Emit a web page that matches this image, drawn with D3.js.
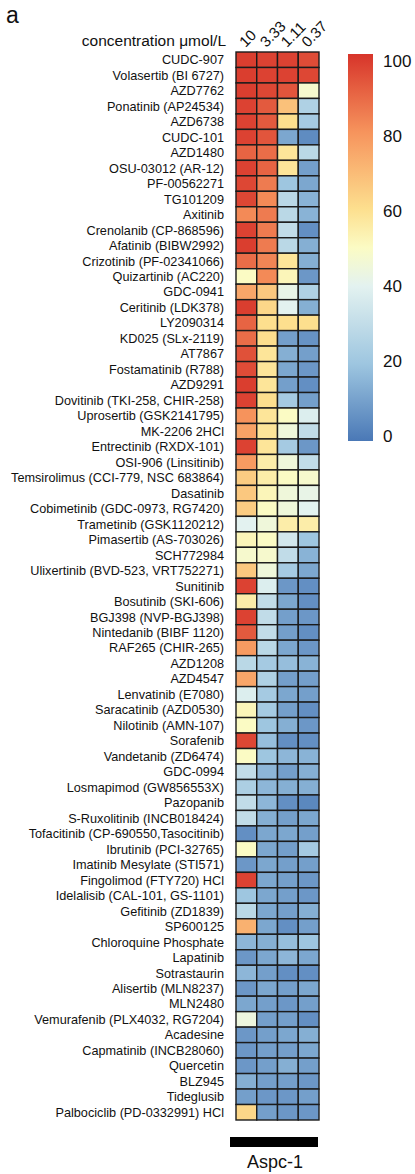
<!DOCTYPE html>
<html>
<head>
<meta charset="utf-8">
<script src="https://cdn.jsdelivr.net/npm/d3@7"></script>
<style>
  body { margin: 0; background: #fff; }
  text { font-family: "Liberation Sans", Arial, Helvetica, sans-serif; fill: #111; }
</style>
</head>
<body>
<div id="chart"></div>
<script>
const WIDTH = 415;
const HEIGHT = 1174;

var drugs = [
  "CUDC-907", "Volasertib (BI 6727)", "AZD7762", "Ponatinib (AP24534)", "AZD6738",
  "CUDC-101", "AZD1480", "OSU-03012 (AR-12)", "PF-00562271", "TG101209",
  "Axitinib", "Crenolanib (CP-868596)", "Afatinib (BIBW2992)", "Crizotinib (PF-02341066)",
  "Quizartinib (AC220)", "GDC-0941", "Ceritinib (LDK378)", "LY2090314", "KD025 (SLx-2119)",
  "AT7867", "Fostamatinib (R788)", "AZD9291", "Dovitinib (TKI-258, CHIR-258)",
  "Uprosertib (GSK2141795)", "MK-2206 2HCl", "Entrectinib (RXDX-101)", "OSI-906 (Linsitinib)",
  "Temsirolimus (CCI-779, NSC 683864)", "Dasatinib", "Cobimetinib (GDC-0973, RG7420)",
  "Trametinib (GSK1120212)", "Pimasertib (AS-703026)", "SCH772984",
  "Ulixertinib (BVD-523, VRT752271)", "Sunitinib", "Bosutinib (SKI-606)", "BGJ398 (NVP-BGJ398)",
  "Nintedanib (BIBF 1120)", "RAF265 (CHIR-265)", "AZD1208", "AZD4547", "Lenvatinib (E7080)",
  "Saracatinib (AZD0530)", "Nilotinib (AMN-107)", "Sorafenib", "Vandetanib (ZD6474)",
  "GDC-0994", "Losmapimod (GW856553X)", "Pazopanib", "S-Ruxolitinib (INCB018424)",
  "Tofacitinib (CP-690550,Tasocitinib)", "Ibrutinib (PCI-32765)", "Imatinib Mesylate (STI571)",
  "Fingolimod (FTY720) HCl", "Idelalisib (CAL-101, GS-1101)", "Gefitinib (ZD1839)", "SP600125",
  "Chloroquine Phosphate", "Lapatinib", "Sotrastaurin", "Alisertib (MLN8237)", "MLN2480",
  "Vemurafenib (PLX4032, RG7204)", "Acadesine", "Capmatinib (INCB28060)", "Quercetin",
  "BLZ945", "Tideglusib", "Palbociclib (PD-0332991) HCl"
];

var concentrations = ["10", "3.33", "1.11", "0.37"];

// inhibition (%) at 10 / 3.33 / 1.11 / 0.37 umol/L
var inhib10 = [98, 98, 98, 97, 97, 97, 90, 97, 96, 96, 82, 97, 98, 88, 50, 75, 98, 90, 88, 94,
  95, 98, 97, 80, 76, 97, 78, 65, 66, 65, 40, 52, 48, 66, 97, 55, 97, 92, 78, 28, 75, 38, 52, 50,
  96, 50, 30, 24, 30, 30, 6, 50, 8, 97, 20, 28, 72, 16, 8, 16, 8, 12, 44, 8, 8, 8, 14, 10, 62];
var inhib333 = [97, 97, 96, 92, 92, 93, 88, 90, 85, 82, 85, 85, 85, 83, 82, 66, 62, 60, 60, 58,
  58, 58, 60, 58, 58, 58, 55, 55, 52, 50, 45, 50, 48, 45, 38, 30, 30, 30, 28, 22, 25, 22, 22, 20,
  18, 20, 16, 16, 16, 14, 12, 12, 12, 12, 12, 12, 12, 14, 12, 10, 12, 10, 10, 10, 10, 10, 10, 8, 10];
var inhib111 = [97, 97, 93, 68, 60, 12, 58, 58, 20, 28, 28, 30, 28, 58, 52, 42, 40, 60, 10, 14,
  12, 10, 22, 50, 45, 22, 45, 50, 45, 45, 55, 35, 30, 22, 8, 12, 10, 10, 12, 18, 10, 12, 10, 14,
  6, 16, 10, 14, 6, 10, 12, 10, 10, 10, 10, 10, 6, 18, 16, 6, 10, 8, 10, 12, 10, 14, 10, 8, 8];
var inhib037 = [95, 96, 48, 25, 22, 5, 28, 10, 12, 15, 15, 6, 14, 14, 8, 25, 14, 60, 7, 10,
  8, 6, 10, 38, 30, 8, 30, 48, 42, 40, 55, 20, 15, 12, 6, 6, 8, 6, 8, 15, 10, 10, 6, 8,
  6, 15, 14, 14, 4, 12, 10, 22, 10, 8, 8, 14, 10, 20, 12, 6, 12, 10, 6, 14, 12, 10, 8, 10, 8];

var legendTicks = [0, 20, 40, 60, 80, 100];

var series = [inhib10, inhib333, inhib111, inhib037];
var cells = [];
drugs.forEach((d, i) => {
  series.forEach((s, j) => {
    cells.push({ drug: d, conc: concentrations[j], value: s[i] });
  });
});

var color = d3.scaleLinear()
  .domain([0, 20, 40, 50, 60, 80, 100])
  .range(["#4a78b6", "#9ec6e0", "#e3f2f0", "#fbfbc4", "#fddf8e", "#f6935c", "#d7342a"])
  .clamp(true);

var x = d3.scaleBand().domain(concentrations).range([236, 319]);
var y = d3.scaleBand().domain(drugs).range([52, 1120]);

var svg = d3.select("#chart").append("svg")
  .attr("width", WIDTH)
  .attr("height", HEIGHT);

svg.append("text")
  .attr("x", 6)
  .attr("y", 23)
  .attr("font-size", 23)
  .text("a");

svg.append("text")
  .attr("x", 226)
  .attr("y", 46)
  .attr("text-anchor", "end")
  .attr("font-size", 15.5)
  .text("concentration μmol/L");

svg.append("g")
  .selectAll("text")
  .data(concentrations)
  .join("text")
  .attr("transform", d => "translate(" + (x(d) + x.bandwidth() / 2 - 1) + ",48) rotate(-45)")
  .attr("font-size", 15)
  .text(d => d);

svg.append("g")
  .selectAll("rect")
  .data(cells)
  .join("rect")
  .attr("x", d => x(d.conc))
  .attr("y", d => y(d.drug))
  .attr("width", x.bandwidth())
  .attr("height", y.bandwidth())
  .attr("fill", d => color(d.value))
  .attr("stroke", "#1b1b1b")
  .attr("stroke-width", 1.4);

svg.append("g")
  .selectAll("text")
  .data(drugs)
  .join("text")
  .attr("x", 224)
  .attr("y", d => y(d) + y.bandwidth() / 2)
  .attr("dy", "0.36em")
  .attr("text-anchor", "end")
  .attr("font-size", 12.7)
  .text(d => d);

/* colour bar */
var legendY = d3.scaleLinear().domain([0, 100]).range([436, 61]);
var grad = svg.append("defs").append("linearGradient")
  .attr("id", "grad")
  .attr("x1", 0).attr("y1", 1)
  .attr("x2", 0).attr("y2", 0);
grad.selectAll("stop")
  .data(d3.range(0, 101, 5))
  .join("stop")
  .attr("offset", d => d / 100)
  .attr("stop-color", d => color(d));

svg.append("rect")
  .attr("x", 348)
  .attr("y", 54)
  .attr("width", 25)
  .attr("height", 387)
  .attr("fill", "url(#grad)");

svg.append("g")
  .selectAll("text")
  .data(legendTicks)
  .join("text")
  .attr("x", 383)
  .attr("y", d => legendY(d))
  .attr("dy", "0.36em")
  .attr("font-size", 17)
  .text(d => d);

svg.append("rect")
  .attr("x", x.range()[0] - 6)
  .attr("y", 1137)
  .attr("width", x.range()[1] - x.range()[0] + 5)
  .attr("height", 10)
  .attr("fill", "#000");

svg.append("text")
  .attr("x", 275)
  .attr("y", 1168)
  .attr("text-anchor", "middle")
  .attr("font-size", 18)
  .text("Aspc-1");
</script>
</body>
</html>
